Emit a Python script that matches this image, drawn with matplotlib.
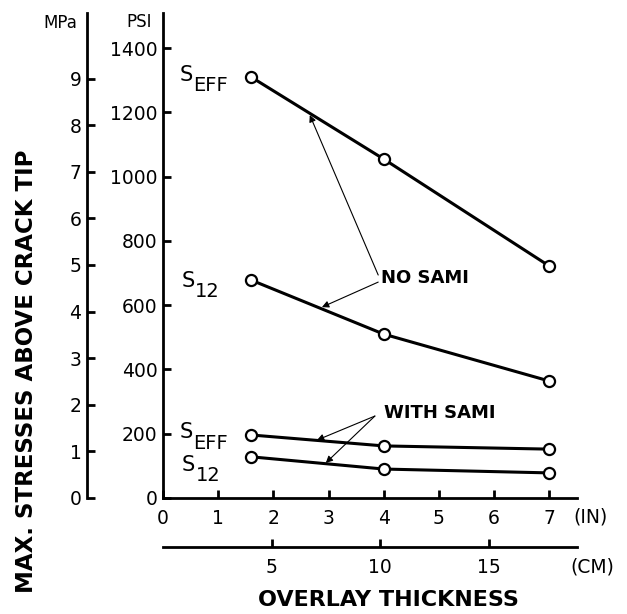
import matplotlib.pyplot as plt

# overlay thickness (in) and max stresses (psi)
thickness_in = [1.6, 4.0, 7.0]
seff_no_sami = [1310, 1055, 722]
s12_no_sami = [678, 510, 364]
seff_with_sami = [196, 162, 152]
s12_with_sami = [128, 90, 78]

psi_ticks = [0, 200, 400, 600, 800, 1000, 1200, 1400]
mpa_ticks = [0, 1, 2, 3, 4, 5, 6, 7, 8, 9]
in_ticks = [0, 1, 2, 3, 4, 5, 6, 7]
cm_ticks = [5, 10, 15]

PSI_PER_MPA = 145.04
CM_PER_IN = 2.54

plt.rcParams['font.family'] = 'DejaVu Sans'

fig = plt.figure(figsize=(6.27, 6.14), dpi=100)
ax = fig.add_axes([0.26, 0.189, 0.66, 0.79])

for s in [seff_no_sami, s12_no_sami, seff_with_sami, s12_with_sami]:
    ax.plot(thickness_in, s, color='black', lw=2.2, marker='o', ms=8,
            mfc='white', mec='black', mew=1.6, zorder=3)

ax.set_xlim(0, 7.5)
ax.set_ylim(0, 1510)
ax.spines['top'].set_visible(False)
ax.spines['right'].set_visible(False)
ax.spines['left'].set_linewidth(2)
ax.spines['bottom'].set_linewidth(2)

ax.set_yticks(psi_ticks)
ax.set_xticks(in_ticks)
ax.tick_params(direction='in', length=6, width=2, labelsize=13.5, pad=4)
ax.tick_params(axis='x', pad=8)

# MPa scale on the left
mpa = ax.secondary_yaxis(-0.1836, functions=(lambda p: p / PSI_PER_MPA,
                                             lambda m: m * PSI_PER_MPA))
mpa.set_yticks(mpa_ticks)
mpa.spines['left'].set_linewidth(2)
mpa.tick_params(direction='in', length=6, width=2, labelsize=13.5, pad=4)

# CM scale below
cm = ax.secondary_xaxis(-0.101, functions=(lambda i: i * CM_PER_IN,
                                           lambda c: c / CM_PER_IN))
cm.set_xticks(cm_ticks)
cm.spines['bottom'].set_linewidth(2)
cm.tick_params(direction='in', length=6, width=2, labelsize=13.5, pad=8)

fig.text(0.096, 0.962, 'MPa', fontsize=12, ha='center', va='center')
fig.text(0.222, 0.964, 'PSI', fontsize=12, ha='center', va='center')
fig.text(0.941, 0.158, '(IN)', fontsize=13.5, ha='center', va='center')
fig.text(0.945, 0.077, '(CM)', fontsize=13.5, ha='center', va='center')
fig.text(0.043, 0.395, 'MAX. STRESSES ABOVE CRACK TIP', fontsize=16.5,
         fontweight='bold', rotation=90, ha='center', va='center')
fig.text(0.62, 0.022, 'OVERLAY THICKNESS', fontsize=16, fontweight='bold',
         ha='center', va='center')

# curve labels
def slabel(x, y, sub):
    ax.text(x, y, 'S', fontsize=15, ha='left', va='center')
    ax.annotate(sub, (x, y), xytext=(10, -8), textcoords='offset points',
                fontsize=14, ha='left', va='center')

slabel(0.30, 1318, 'EFF')
slabel(0.33, 676, '12')
slabel(0.30, 204, 'EFF')
slabel(0.34, 103, '12')

arrow = dict(arrowstyle='-|>', lw=0.8, color='black', mutation_scale=10,
             shrinkA=0, shrinkB=0)
ax.text(3.95, 684, 'NO SAMI', fontsize=13, fontweight='bold', ha='left', va='center')
ax.annotate('', xy=(2.66, 1192), xytext=(3.9, 694), arrowprops=arrow)
ax.annotate('', xy=(2.88, 594), xytext=(3.9, 672), arrowprops=arrow)
ax.text(4.0, 264, 'WITH SAMI', fontsize=13, fontweight='bold', ha='left', va='center')
ax.annotate('', xy=(2.79, 180), xytext=(3.84, 255), arrowprops=arrow)
ax.annotate('', xy=(2.95, 109), xytext=(3.84, 255), arrowprops=arrow)

fig.savefig('out.png', dpi=100)
